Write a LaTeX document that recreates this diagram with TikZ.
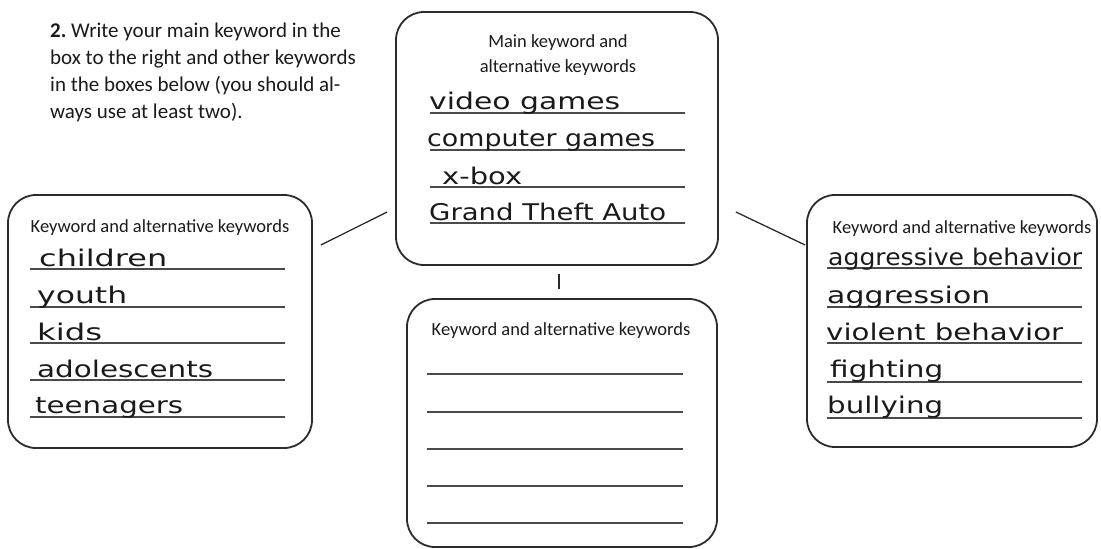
\documentclass[tikz,border=0pt]{standalone}
\usepackage{fontspec}
\setmainfont{Carlito}
\newfontfamily\handfont{DejaVu Sans}
\newcommand\handword[2]{\resizebox{#1}{\height}{#2}}
\definecolor{ink}{HTML}{1A1A1A}
\definecolor{boxline}{HTML}{2B2B2B}
\definecolor{ruleline}{HTML}{4A4A4A}
\tikzset{
    kbox/.style={draw=boxline, line width=1.8pt, rounded corners=28pt},
    ktitle/.style={anchor=base, inner sep=0pt, text=ink, align=center, font=\fontsize{18.5}{25}\selectfont},
    hand/.style={anchor=base west, inner sep=0pt, text=ink, font=\handfont\fontsize{23}{23}\selectfont},
    wline/.style={draw=ruleline, line width=1.3pt},
    link/.style={draw=boxline, line width=1.3pt}
}
\begin{document}
\begin{tikzpicture}[x=1pt, y=-1pt]
    \useasboundingbox (0,0) rectangle (1101,549);

    \node[anchor=base west, inner sep=0pt, text=ink, align=left, font=\fontsize{21}{27}\selectfont] (task) at (50,118)
        {\textbf{2.}\ Write your main keyword in the\\box to the right and other keywords\\in the boxes below (you should al-\\ways use at least two).};

    \node[kbox, minimum width=322pt, minimum height=253pt] (mainbox) at (557,138.5) {};
    \node[kbox, minimum width=304pt, minimum height=253pt] (leftbox) at (160,321.5) {};
    \node[kbox, minimum width=290pt, minimum height=252pt] (rightbox) at (952,321) {};
    \node[kbox, minimum width=310pt, minimum height=248pt] (bottombox) at (562,423) {};

    \node[ktitle] (maintitle) at (558,72.5) {Main keyword and\\alternative keywords};
    \node[ktitle] (lefttitle) at (160,232) {Keyword and alternative keywords};
    \node[ktitle] (righttitle) at (962,233) {Keyword and alternative keywords};
    \node[ktitle] (bottomtitle) at (561,335) {Keyword and alternative keywords};

    \draw[link] ([shift={(8,-76.5)}]leftbox.east) -- ([shift={(-8,73.5)}]mainbox.west);
    \draw[link] ([shift={(17,73.5)}]mainbox.east) -- ([shift={(-1,-76)}]rightbox.west);
    \draw[link] ([shift={(2,8)}]mainbox.south) -- ([shift={(-3,-9)}]bottombox.north);

    \draw[wline] (430,113) -- (685,113);
    \draw[wline] (430,150) -- (685,150);
    \draw[wline] (430,187) -- (685,187);
    \draw[wline] (430,223) -- (685,223);
    \node[hand] (main1) at (429,109) {\handword{191pt}{video games}};
    \node[hand] (main2) at (427,146) {\handword{228pt}{computer games}};
    \node[hand] (main3) at (442,184) {\handword{80pt}{x-box}};
    \node[hand] (main4) at (429,220) {\handword{237pt}{Grand Theft Auto}};

    \draw[wline] (30,269) -- (285,269);
    \draw[wline] (30,307) -- (285,307);
    \draw[wline] (30,343) -- (285,343);
    \draw[wline] (30,380) -- (285,380);
    \draw[wline] (30,417) -- (285,417);
    \node[hand] (left1) at (39,266) {\handword{128pt}{children}};
    \node[hand] (left2) at (37,303) {\handword{90pt}{youth}};
    \node[hand] (left3) at (37,340) {\handword{65pt}{kids}};
    \node[hand] (left4) at (37,377) {\handword{176pt}{adolescents}};
    \node[hand] (left5) at (35,413) {\handword{148pt}{teenagers}};

    \draw[wline] (827,268) -- (1082,268);
    \draw[wline] (827,307) -- (1082,307);
    \draw[wline] (827,343) -- (1082,343);
    \draw[wline] (827,382) -- (1082,382);
    \draw[wline] (827,418) -- (1082,418);
    \node[hand] (right1) at (828,265) {\handword{254pt}{aggressive behavior}};
    \node[hand] (right2) at (827,303) {\handword{163pt}{aggression}};
    \node[hand] (right3) at (826,340) {\handword{237pt}{violent behavior}};
    \node[hand] (right4) at (830,377) {\handword{113pt}{fighting}};
    \node[hand] (right5) at (827,413) {\handword{116pt}{bullying}};

    \draw[wline] (427,374) -- (683,374);
    \draw[wline] (427,412) -- (683,412);
    \draw[wline] (427,449) -- (683,449);
    \draw[wline] (427,486) -- (683,486);
    \draw[wline] (427,523) -- (683,523);
\end{tikzpicture}
\end{document}
